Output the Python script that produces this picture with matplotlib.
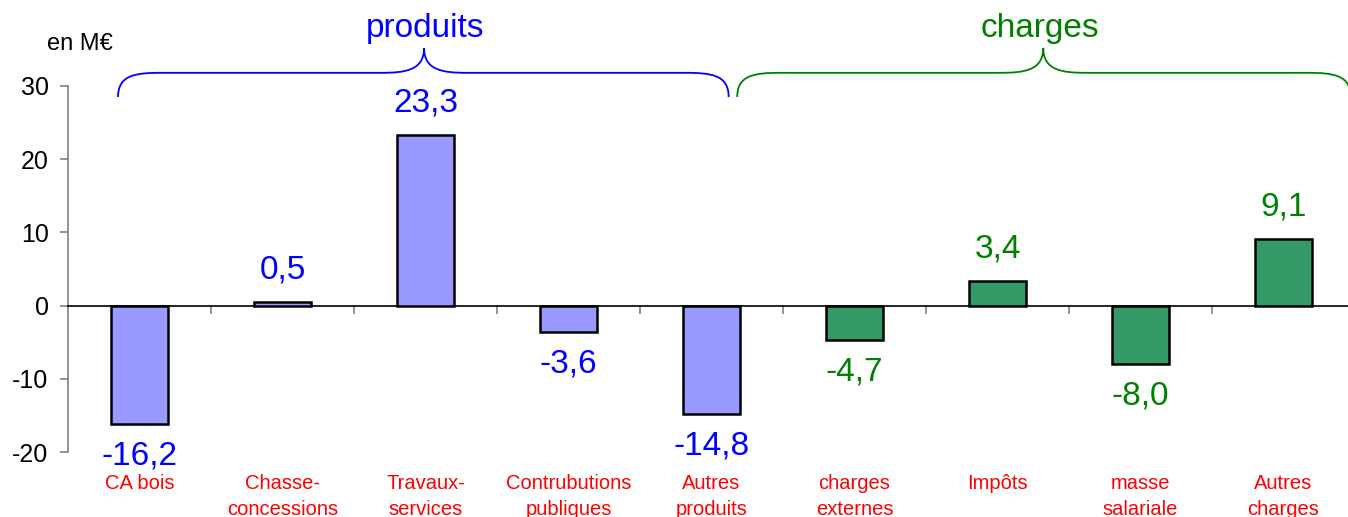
import matplotlib.pyplot as plt
from matplotlib.path import Path
from matplotlib.patches import PathPatch

categories = ["CA bois", "Chasse-\nconcessions", "Travaux-\nservices", "Contrubutions\npubliques",
              "Autres\nproduits", "charges\nexternes", "Impôts", "masse\nsalariale", "Autres\ncharges"]
values = [-16.2, 0.5, 23.3, -3.6, -14.8, -4.7, 3.4, -8.0, 9.1]
groups = ["produits"] * 5 + ["charges"] * 4
value_labels = ["-16,2", "0,5", "23,3", "-3,6", "-14,8", "-4,7", "3,4", "-8,0", "9,1"]

plt.rcParams['font.family'] = ['Liberation Sans', 'DejaVu Sans']
plt.rcParams['axes.unicode_minus'] = False

bar_col = {"produits": "#9999FF", "charges": "#339966"}
txt_col = {"produits": "#0000FF", "charges": "#008000"}

fig = plt.figure(figsize=(13.48, 5.17), dpi=100)
ax = fig.add_axes([68 / 1348, 65 / 517, 1287 / 1348, 366 / 517])

x = list(range(len(values)))
ax.bar(x, values, width=0.4, color=[bar_col[g] for g in groups],
       edgecolor="black", linewidth=1.8, zorder=3)

for i, v in enumerate(values):
    off = 12 if v >= 0 else -12
    ax.annotate(value_labels[i], xy=(i, v), xytext=(0, off), textcoords="offset points",
                ha="center", va="bottom" if v >= 0 else "top",
                fontsize=24, color=txt_col[groups[i]])
    ax.annotate(categories[i], xy=(i, -20), xytext=(0, -16), textcoords="offset points",
                ha="center", va="top", fontsize=14.5, color="#FF0000", linespacing=1.45,
                annotation_clip=False)

ax.set_xlim(-0.5, 8.5)
ax.set_ylim(-20, 30)
ax.set_yticks([-20, -10, 0, 10, 20, 30])
ax.tick_params(axis="y", labelsize=18, length=6, width=1.2, color="#808080", pad=8)
ax.set_xticks([i + 0.5 for i in range(8)])
ax.set_xticklabels([])
ax.tick_params(axis="x", length=6, width=1.2, color="#808080", direction="out")

for s in ["top", "right"]:
    ax.spines[s].set_visible(False)
ax.spines["left"].set_color("#808080")
ax.spines["left"].set_linewidth(1.2)
ax.spines["bottom"].set_position(("data", 0))
ax.spines["bottom"].set_color("black")
ax.spines["bottom"].set_linewidth(1.2)


def brace(x0, xm, x1, y0, y1, y2, color, rx=0.3):
    # horizontal curly brace: ends at y0, flat at y1, peak at y2
    verts = [(x0, y0),
             (x0, y1 - 0.3), (x0 + rx * 0.4, y1), (x0 + rx, y1),
             (xm - rx, y1),
             (xm - rx * 0.45, y1), (xm, y1 + 0.3), (xm, y2),
             (xm, y1 + 0.3), (xm + rx * 0.45, y1), (xm + rx, y1),
             (x1 - rx, y1),
             (x1 - rx * 0.4, y1), (x1, y1 - 0.3), (x1, y0)]
    codes = [Path.MOVETO] + [Path.CURVE4] * 3 + [Path.LINETO] + [Path.CURVE4] * 6 + \
            [Path.LINETO] + [Path.CURVE4] * 3
    p = PathPatch(Path(verts, codes), facecolor="none", edgecolor=color, lw=1.3, clip_on=False)
    ax.add_patch(p)


brace(-0.15, 1.99, 4.12, 28.5, 31.8, 35.2, "#0000FF")
brace(4.18, 6.32, 8.47, 28.5, 31.8, 35.2, "#008000")
ax.text(2.0, 37.9, "produits", ha="center", va="center", fontsize=24, color="#0000FF")
ax.text(6.3, 37.9, "charges", ha="center", va="center", fontsize=24, color="#008000")

fig.text(80 / 1348, 1 - 44 / 517, "en M€", ha="center", va="center", fontsize=17)

fig.savefig("out.png", dpi=100)
